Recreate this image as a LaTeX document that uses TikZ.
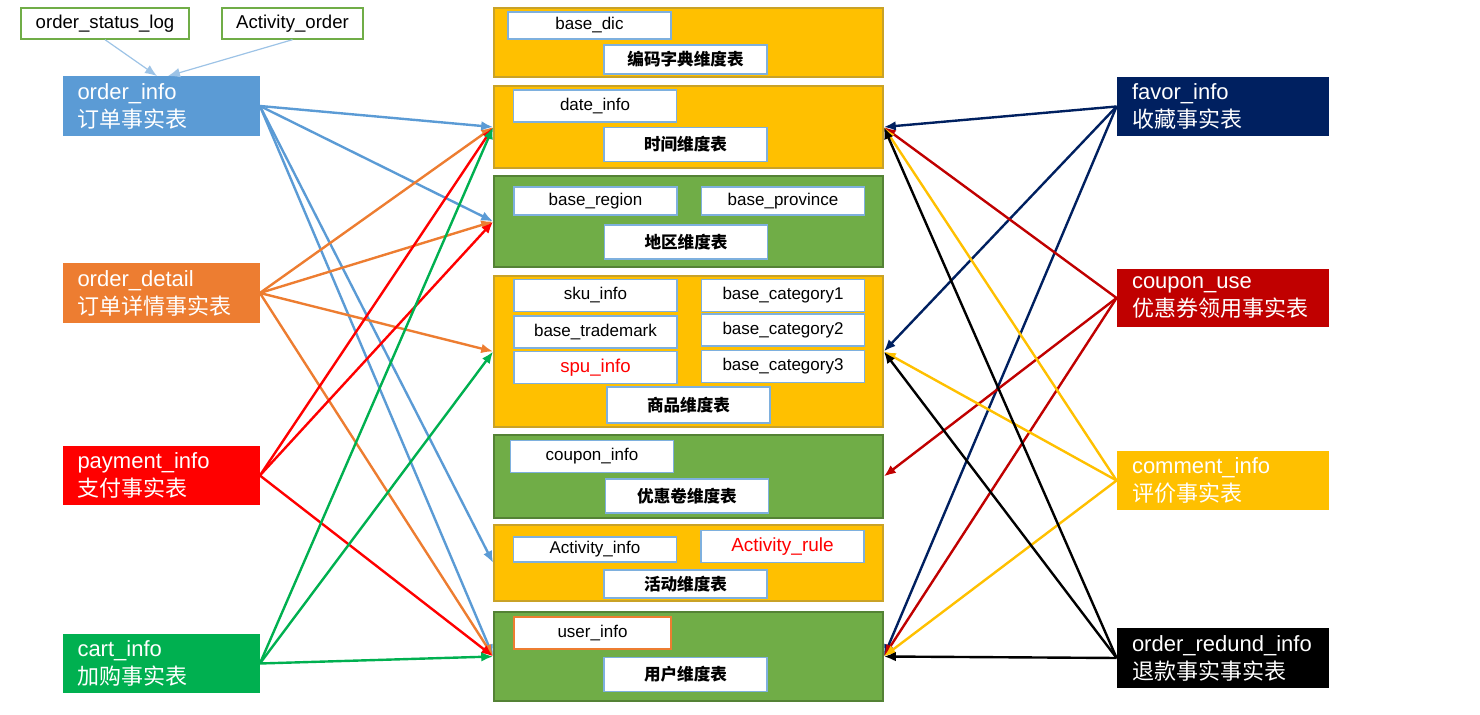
\documentclass[tikz,border=0pt]{standalone}
\usepackage{fontspec}
\setmainfont{Liberation Sans}
\newfontfamily\cjk{Noto Sans CJK SC}
\usetikzlibrary{arrows.meta}
\definecolor{mblue}{HTML}{5B9BD5}
\definecolor{morange}{HTML}{ED7D31}
\definecolor{mred}{HTML}{FF0000}
\definecolor{mgreen}{HTML}{00B050}
\definecolor{mnavy}{HTML}{002060}
\definecolor{mdred}{HTML}{C00000}
\definecolor{myellow}{HTML}{FFC000}
\definecolor{myellowb}{HTML}{C9A227}
\definecolor{mgrass}{HTML}{70AD47}
\definecolor{mgrassb}{HTML}{548235}
\definecolor{tblblue}{HTML}{7EB0DE}
\definecolor{thinblue}{HTML}{9DC3E6}
\tikzset{fact/.style = {rectangle, fill=#1, text=white, minimum height=29pt,
                        text width=83.5pt, inner xsep=7.5pt, align=left,
                        font=\fontsize{11}{14}\selectfont},
         rfact/.style = {fact=#1, text width=91pt},
         dimy/.style = {rectangle, fill=myellow, draw=myellowb, line width=0.8pt,
                        minimum width=194.5pt},
         dimg/.style = {dimy, fill=mgrass, draw=mgrassb},
         tbl/.style = {rectangle, draw=tblblue, fill=white, line width=0.8pt,
                       minimum width=81.5pt, minimum height=16pt, inner sep=0pt,
                       font=\fontsize{8.5}{10}\selectfont},
         lbl/.style = {tbl, minimum height=17pt,
                       font=\cjk\bfseries\fontsize{8.3}{10}\selectfont},
         src/.style = {rectangle, draw=mgrass, fill=white, line width=0.7pt,
                       minimum height=15.5pt, font=\fontsize{9.3}{11}\selectfont},
         con/.style = {line width=1.2pt, -{Latex[length=6pt,width=4.8pt]}}}

\begin{document}
\begin{tikzpicture}[x=0.5pt,y=-0.5pt]
    \useasboundingbox (0,0) rectangle (1480,715);

    % source logs
    \node [src, minimum width=84pt] (osl) at (105, 23.5) {order\_status\_log};
    \node [src, minimum width=70.5pt] (ao) at (292.5, 23.5) {Activity\_order};

    % fact tables, left
    \node [fact=mblue] (oi) at (161, 106) {order\_info\\{\cjk 订单事实表}};
    \node [fact=morange] (od) at (161, 293) {order\_detail\\{\cjk 订单详情事实表}};
    \node [fact=mred] (pay) at (161, 475.5) {payment\_info\\{\cjk 支付事实表}};
    \node [fact=mgreen] (cart) at (161, 663.5) {cart\_info\\{\cjk 加购事实表}};

    % fact tables, right
    \node [rfact=mnavy] (fav) at (1223, 106.5) {favor\_info\\{\cjk 收藏事实表}};
    \node [rfact=mdred] (cpu) at (1223, 298) {coupon\_use\\{\cjk 优惠券领用事实表}};
    \node [rfact=myellow] (cmt) at (1223, 480.5) {comment\_info\\{\cjk 评价事实表}};
    \node [rfact=black] (ref) at (1223, 658) {order\_redund\_info\\{\cjk 退款事实事实表}};

    % dimension tables
    \node [dimy, minimum height=34.5pt] (dic) at (688.5, 42.5) {};
    \node [dimy, minimum height=41pt] (date) at (688.5, 127) {};
    \node [dimg, minimum height=45.5pt] (region) at (688.5, 221.5) {};
    \node [dimy, minimum height=75.5pt] (prod) at (688.5, 351.5) {};
    \node [dimg, minimum height=41.5pt] (coup) at (688.5, 476.5) {};
    \node [dimy, minimum height=38pt] (act) at (688.5, 563) {};
    \node [dimg, minimum height=44.5pt] (user) at (688.5, 656.5) {};

    \node [tbl, minimum height=13.5pt] (basedic) at (589.5, 25.5) {base\_dic};
    \node [lbl, minimum height=14.5pt] (diclbl) at (685.5, 59.5) {\cjk 编码字典维度表};
    \node [tbl] (dateinfo) at (595, 106) {date\_info};
    \node [lbl] (datelbl) at (685.5, 144.5) {\cjk 时间维度表};
    \node [tbl, minimum height=14pt] (bregion) at (595.5, 201) {base\_region};
    \node [tbl, minimum height=14pt] (bprov) at (783, 201) {base\_province};
    \node [lbl] (regionlbl) at (686, 242) {\cjk 地区维度表};
    \node [tbl] (sku) at (595.5, 295.5) {sku\_info};
    \node [tbl] (trade) at (595.5, 332) {base\_trademark};
    \node [tbl, text=mred, font=\fontsize{9.3}{11}\selectfont] (spu) at (595.5, 367.5) {spu\_info};
    \node [tbl] (cat1) at (783, 295.5) {base\_category1};
    \node [tbl] (cat2) at (783, 330) {base\_category2};
    \node [tbl] (cat3) at (783, 366.5) {base\_category3};
    \node [lbl, minimum height=18pt] (prodlbl) at (688.5, 405) {\cjk 商品维度表};
    \node [tbl] (coupinfo) at (592, 456.5) {coupon\_info};
    \node [lbl] (couplbl) at (687, 496) {\cjk 优惠卷维度表};
    \node [tbl, minimum height=12.5pt] (actinfo) at (595, 549.5) {Activity\_info};
    \node [tbl, text=mred, font=\fontsize{9.5}{11}\selectfont] (actrule) at (782.5, 546.5) {Activity\_rule};
    \node [lbl, minimum height=14pt] (actlbl) at (685.5, 584) {\cjk 活动维度表};
    \node [tbl, draw=morange, minimum width=78.5pt] (uinfo) at (592.5, 633) {user\_info};
    \node [lbl] (userlbl) at (685.5, 674.5) {\cjk 用户维度表};

    % connectors
    \draw [thinblue, line width=0.6pt, -{Latex[length=6pt,width=4.8pt]}] (osl.south) -- ([xshift=-2pt]oi.north);
    \draw [thinblue, line width=0.6pt, -{Latex[length=6pt,width=4.8pt]}] (ao.south) -- ([xshift=3.5pt]oi.north);
    \foreach \t in {date, region, act, user}
      \draw [con, mblue] (oi.east) -- (\t.west);
    \foreach \t in {date, region, prod, user}
      \draw [con, morange] (od.east) -- (\t.west);
    \foreach \t in {date, region, user}
      \draw [con, mred] (pay.east) -- (\t.west);
    \foreach \t in {date, prod, user}
      \draw [con, mgreen] (cart.east) -- (\t.west);
    \foreach \t in {date, prod, user}
      \draw [con, mnavy] (fav.west) -- (\t.east);
    \foreach \t in {date, coup, user}
      \draw [con, mdred] (cpu.west) -- (\t.east);
    \foreach \t in {date, prod, user}
      \draw [con, myellow] (cmt.west) -- (\t.east);
    \foreach \t in {date, prod, user}
      \draw [con, black] (ref.west) -- (\t.east);
  \end{tikzpicture}
\end{document}
